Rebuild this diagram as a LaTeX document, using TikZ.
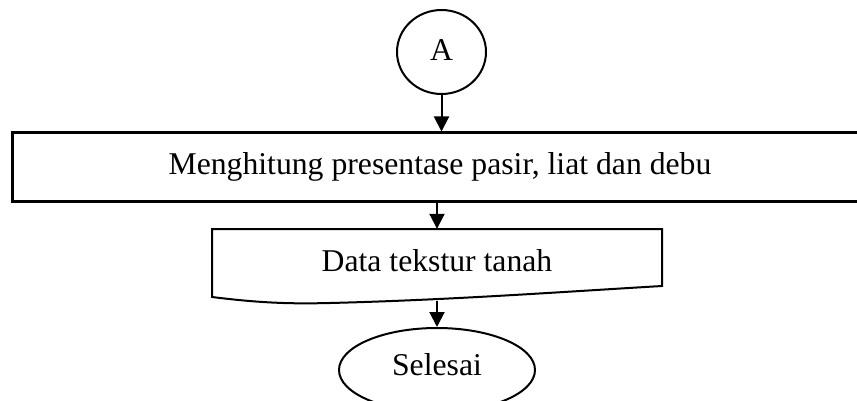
\documentclass[tikz,border=0pt]{standalone}
\usepackage{fontspec}
\setmainfont{Liberation Serif}
\usetikzlibrary{arrows.meta,shapes.geometric}
\begin{document}
\begin{tikzpicture}[x=1pt,y=-1pt,
  flow/.style={line width=2pt,-{Triangle[width=15pt,length=15pt]}},
  lbl/.style={anchor=base,inner sep=0pt,font=\fontsize{31.7}{38}\selectfont},
  outline/.style={draw,line width=2pt,inner sep=0pt}]
\clip (0,0) rectangle (857,401);
\fill[white] (0,0) rectangle (857,401);

% connector circle
\node[outline,ellipse,minimum width=89pt,minimum height=84pt] (start) at (441.5,52) {};
\node[lbl] (startT) at (441.5,61) {A};

% process box (runs past the right edge)
\node[outline,line width=3pt,rectangle,minimum width=856pt,minimum height=68pt] (calc) at (440,167) {};
\node[lbl] (calcT) at (440,175) {Menghitung presentase pasir, liat dan debu};

% document shape with wavy bottom
\node[inner sep=0pt,minimum width=450pt,minimum height=58pt] (doc) at (437,258) {};
\draw[line width=2pt,line join=miter]
  (662,229) -- (212,229) -- (212,297)
  .. controls (260,303) and (290,304) .. (330,303)
  .. controls (450,300) and (560,292) .. (662,286) -- cycle;
\coordinate (docB) at (437,301);
\node[lbl] (docT) at (437,271) {Data tekstur tanah};

% terminator
\node[outline,ellipse,minimum width=196pt,minimum height=84pt] (stop) at (437,370) {};
\node[lbl] (stopT) at (437,375) {Selesai};

% flow arrows
\draw[flow] (start.south) -- (start.south |- calc.north);
\draw[flow] (doc.north |- calc.south) -- (doc.north);
\draw[flow] (docB) -- (stop.north);
\end{tikzpicture}
\end{document}
